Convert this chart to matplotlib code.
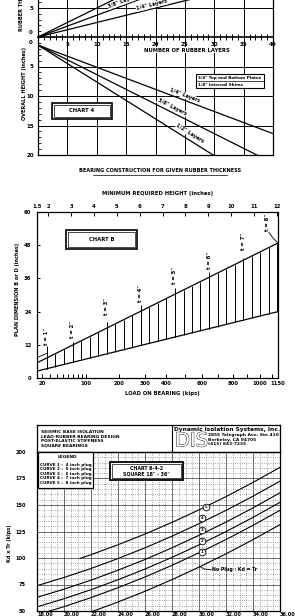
import numpy as np
import matplotlib
matplotlib.use('Agg')
import matplotlib.pyplot as plt
from matplotlib.patches import Rectangle
from matplotlib.lines import Line2D
from matplotlib.ticker import NullLocator
import matplotlib.patheffects as pe

plt.rcParams['font.family'] = 'DejaVu Sans'
plt.rcParams['font.weight'] = 'bold'

W, H = 295, 616

# ---- chart 4: rubber thickness / overall height vs layers ----
layers_span = [0, 40]
thick_quarter = [0, 10]
thick_three_eighths = [0, 15]
thick_half = [0, 20]
height_quarter = [1.375, 16.375]
height_three_eighths = [1.375, 21.375]
height_half = [1.375, 26.375]

# ---- chart B: plan dimension vs load ----
load_span = [15, 1150]
plan_upper = [5.5, 48.8]
plan_lower = [2.5, 24.0]
hatch_loads = [26, 38, 53, 69, 88, 109, 132, 158, 186, 216, 248, 283, 320, 359,
               400, 444, 490, 538, 588, 641, 696, 753, 812, 874, 938, 1004, 1073, 1143]
t_loads = [26, 69, 158, 283, 444, 641, 874]
t_tops = [11.6, 13.0, 20.2, 26.4, 32.5, 38.3, 43.4]
t_label_y = [15.2, 17.7, 25.7, 30.7, 37.2, 42.6, 49.5]
t_labels = ['t = 1"', 't = 2"', 't = 3"', 't = 4"', 't = 5"', 't = 6"', 't = 7"']
t_last_label = 't = 8"'
height_ticks = [1.5, 2, 3, 4, 5, 6, 7, 8, 9, 10, 11, 12]
height_labels = ['1.5', '2', '3', '4', '5', '6', '7', '8', '9', '10', '11', '12']
load_ticks = [20, 30, 40, 50, 60, 70, 80, 90, 100, 200, 300, 400, 500, 600, 700,
              800, 900, 1000, 1100, 1150]
load_labels = ['20', '', '', '', '', '', '', '', '100', '200', '300', '400', '',
               '600', '', '800', '', '1000', '', '1150']
plan_ticks = [0, 12, 24, 36, 48, 60]

# ---- chart 8-4-2: post-elastic stiffness ----
bearing_size = [18, 20, 22, 24, 26, 28, 30, 32, 34, 36]
curve_1 = [46.4, 54.1, 62.6, 72.0, 82.1, 93.1, 104.9, 117.4, 130.8, 145.0]
curve_2 = [53.9, 61.6, 70.1, 79.5, 89.6, 100.6, 112.4, 124.9, 138.3, 152.5]
curve_3 = [62.9, 70.6, 79.1, 88.5, 98.6, 109.6, 121.4, 133.9, 147.3, 161.5]
curve_4 = [73.9, 81.6, 90.1, 99.5, 109.6, 120.6, 132.4, 144.9, 158.3, 172.5]
size_5 = [21.2, 22, 24, 26, 28, 30, 32, 34, 36]
curve_5 = [99.6, 103.1, 112.5, 122.6, 133.6, 145.4, 157.9, 171.3, 185.5]
size_np = [22, 24, 26, 28, 30, 32, 34, 36]
no_plug = [49.1, 58.5, 68.6, 79.6, 91.4, 103.9, 117.3, 131.5]
circle_x = [30.2, 30.2, 30.2, 30.2, 30.5]
circle_y = [106, 116, 126.5, 137.5, 148.5]
legend_rows = ['CURVE 1 :  4 inch plug', 'CURVE 2 :  5 inch plug', 'CURVE 3 :  6 inch plug',
               'CURVE 4 :  7 inch plug', 'CURVE 5 :  8 inch plug']

fig = plt.figure(figsize=(W / 100, H / 100), dpi=100, facecolor='white')


def px_axes(x0, y0, x1, y1):
    ax = fig.add_axes([x0 / W, 1 - y1 / H, (x1 - x0) / W, (y1 - y0) / H])
    ax.patch.set_visible(False)
    return ax


def ft(x, y, s, size=4, **kw):
    kw.setdefault('ha', 'center')
    kw.setdefault('va', 'center')
    return fig.text(x / W, 1 - y / H, s, fontsize=size, fontweight='bold', zorder=6, **kw)


def frect(x0, y0, x1, y1, lw=0.8):
    fig.add_artist(Rectangle((x0 / W, 1 - y1 / H), (x1 - x0) / W, (y1 - y0) / H,
                             transform=fig.transFigure, fc='white', ec='black', lw=lw, zorder=5))


def fline(xs, ys, lw=0.8):
    fig.add_artist(Line2D([x / W for x in xs], [1 - y / H for y in ys],
                          transform=fig.transFigure, color='black', lw=lw, zorder=5))


# ================= chart 4 (overall height, lower part) =================
ax4 = px_axes(38, 37, 273, 155)
ax4.set_xlim(0, 40)
ax4.set_ylim(20, 0)
for h in (height_quarter, height_three_eighths, height_half):
    ax4.plot(layers_span, h, color='black', lw=0.9)
ax4.set_xticks(range(0, 41, 5))
ax4.tick_params(axis='x', length=0, labelbottom=False)
ax4.set_yticks([5, 10, 15, 20])
ax4.set_yticks(range(0, 21), minor=True)
ax4.tick_params(axis='y', which='both', direction='in', length=2.5, width=0.6,
                labelsize=4, pad=3)
ax4.grid(which='major', color='black', lw=0.7)
ax4.spines['top'].set_visible(False)
for s in ('left', 'right', 'bottom'):
    ax4.spines[s].set_linewidth(0.9)
lbl = dict(fontsize=3.6, fontweight='bold', ha='center', va='center',
           bbox=dict(fc='white', ec='none', pad=0.4))
ax4.text(25, 9.9, '1/4" Layers', rotation=-21, **lbl)
ax4.text(22.8, 11.9, '3/8" Layers', rotation=-27, **lbl)
ax4.text(25.9, 16.4, '1/2" Layers', rotation=-32, **lbl)

# ================= chart A (rubber thickness, top) =================
axA = px_axes(38, 0, 273, 37)
axA.set_xlim(0, 40)
axA.set_ylim(0, 37 / 5.8)
for t in (thick_quarter, thick_three_eighths, thick_half):
    axA.plot(layers_span, t, color='black', lw=0.9)
axA.set_xticks(range(0, 41, 5))
axA.set_xticklabels([''] + [str(v) for v in range(5, 41, 5)])
axA.set_xticks(range(41), minor=True)
axA.tick_params(axis='x', which='both', direction='inout', length=5, width=0.7,
                labelsize=4, pad=1)
axA.set_yticks([5])
axA.set_yticks(range(7), minor=True)
axA.tick_params(axis='y', which='both', direction='in', length=2.5, width=0.6,
                labelsize=4, pad=3)
axA.grid(which='major', color='black', lw=0.7)
axA.spines['top'].set_visible(False)
for s in ('left', 'right'):
    axA.spines[s].set_linewidth(0.9)
axA.spines['bottom'].set_linewidth(1.2)
axA.text(19.4, 5.5, '1/4" Layers', rotation=14, **lbl)
axA.text(14.5, 6.1, '3/8" Layers', rotation=20, **lbl)

ft(31, 32, '0')
ft(31, 42, '0')
ft(22, 31, 'RUBBER THICKNESS (inches)', size=3.6, rotation=90, va='bottom')
ft(25, 84, 'OVERALL HEIGHT (inches)', size=3.6, rotation=90)
ft(187, 50, 'NUMBER OF RUBBER LAYERS', size=3.8,
   bbox=dict(fc='white', ec='none', pad=0.5))

frect(52, 103, 112, 119, lw=1.2)
frect(54, 105, 110, 117, lw=0.5)
ft(82, 111, 'CHART 4', size=3.8)
frect(196, 74, 264, 88, lw=0.8)
fline([196, 264], [81, 81], lw=0.5)
ft(198, 77.5, '3/4" Top and Bottom Plates', size=3.0, ha='left')
ft(198, 84.5, '1/8" Internal Shims', size=3.0, ha='left')

ft(160, 171, 'BEARING CONSTRUCTION FOR GIVEN RUBBER THICKNESS', size=3.6)
fline([93, 227], [174.5, 174.5], lw=0.5)
ft(158, 193, 'MINIMUM REQUIRED HEIGHT (inches)', size=3.8)

# ================= chart B =================
axB = px_axes(37, 212, 278, 378)
axB.set_xscale('function', functions=(lambda v: np.sqrt(np.maximum(v, 0)), np.square))
axB.set_xlim(load_span)
axB.set_ylim(0, 60)
axB.plot(load_span, plan_upper, color='black', lw=0.9)
axB.plot(load_span, plan_lower, color='black', lw=0.9)
sq = np.sqrt(load_span)
lo = np.interp(np.sqrt(hatch_loads), sq, plan_lower)
hi = np.interp(np.sqrt(hatch_loads), sq, plan_upper)
axB.vlines(hatch_loads, lo, hi, color='black', lw=0.7)
lo_t = np.interp(np.sqrt(t_loads), sq, plan_lower)
axB.vlines(t_loads, lo_t, t_tops, color='black', lw=0.7)
for x, y, s in zip(t_loads, t_label_y, t_labels):
    axB.text(x, y, s, rotation=90, fontsize=3.8, fontweight='bold', ha='center', va='center')
axB.text(1065, 56.4, t_last_label, rotation=90, fontsize=3.8, fontweight='bold',
         ha='center', va='center')
axB.plot([1150, 1110, 1075], [48.8, 50.5, 52.6], color='black', lw=0.6, clip_on=False)
axB.plot([15, 26], [7.4, 8.9], color='black', lw=0.6)
axB.set_xticks(load_ticks)
axB.set_xticklabels(load_labels)
axB.xaxis.set_minor_locator(NullLocator())
axB.tick_params(axis='x', direction='in', length=3, width=0.7, labelsize=3.8, pad=2.5)
axB.set_yticks(plan_ticks)
axB.tick_params(axis='y', direction='in', length=2.5, width=0.7, labelsize=3.8, pad=4)
for s in axB.spines.values():
    s.set_linewidth(0.9)
axT = axB.twiny()
axT.patch.set_visible(False)
axT.set_xlim(1.5, 12.05)
axT.set_xticks(height_ticks)
axT.set_xticklabels(height_labels)
axT.tick_params(axis='x', direction='in', length=3, width=0.7, labelsize=3.8, pad=2)
for s in axT.spines.values():
    s.set_visible(False)

ft(18, 289, 'PLAN DIMENSION B or D (inches)', size=3.6, rotation=90)
ft(162, 394, 'LOAD ON BEARING (kips)', size=3.8)
frect(66, 230, 137, 249, lw=1.2)
frect(68, 232, 135, 247, lw=0.5)
ft(101.5, 239.5, 'CHART B', size=3.8)

# ================= chart 8-4-2 =================
axH = px_axes(37, 425, 280, 452)
axH.set_xticks([])
axH.set_yticks([])
for s in axH.spines.values():
    s.set_linewidth(0.9)
axH.axvline(0.556, color='black', lw=0.8)
for i, s in enumerate(['SEISMIC BASE ISOLATION', 'LEAD-RUBBER BEARING DESIGN',
                       'POST-ELASTIC STIFFNESS', 'SQUARE BEARINGS']):
    ft(41, 432 + 4.5 * i, s, size=3.2, ha='left')
ft(174, 429, 'Dynamic Isolation Systems, Inc.', size=4.2, ha='left')
dis = ft(175, 441, 'DIS', size=14, ha='left', color='white')
dis.set_fontweight('normal')
dis.set_path_effects([pe.withStroke(linewidth=0.6, foreground='black')])
for i, s in enumerate(['2855 Telegraph Ave. Ste 410', 'Berkeley, CA 94705', '(415) 843-7233']):
    ft(208, 435 + 4.5 * i, s, size=3.2, ha='left')

axC = px_axes(37, 452, 280, 611)
axC.set_xlim(18, 36)
axC.set_ylim(50, 200)
for xs, ys in ((bearing_size, curve_1), (bearing_size, curve_2), (bearing_size, curve_3),
               (bearing_size, curve_4), (size_5, curve_5), (size_np, no_plug)):
    axC.plot(xs, ys, color='black', lw=0.8, zorder=3)
axC.set_xticks(bearing_size)
axC.set_xticklabels([f'{v:.2f}' for v in bearing_size], ha='left')
axC.set_xticks(np.arange(18, 36.01, 0.5), minor=True)
axC.set_yticks([50, 75, 100, 125, 150, 175, 200])
axC.set_yticks(range(50, 201, 5), minor=True)
axC.tick_params(which='both', length=0)
axC.tick_params(axis='x', labelsize=3.6, pad=1)
axC.tick_params(axis='y', labelsize=3.6, pad=8)
axC.grid(which='minor', color='#555555', lw=0.5, ls=(0, (1, 2.2)))
axC.grid(which='major', color='#333333', lw=0.5)
for s in axC.spines.values():
    s.set_linewidth(0.9)
for x, y, n in zip(circle_x, circle_y, range(1, 6)):
    axC.plot(x, y, 'o', ms=4.8, mfc='white', mec='black', mew=0.6, zorder=4)
    axC.text(x, y, str(n), fontsize=2.8, ha='center', va='center', zorder=5)
axC.plot([30.05, 30.4, 30.9], [92, 89.6, 88.9], color='black', lw=0.6, zorder=4)
axC.text(31.0, 88.8, 'No Plug : Kd = Tr', fontsize=3.4, fontweight='bold',
         ha='left', va='center', zorder=5)

frect(38, 452, 93, 488, lw=0.9)
ft(67, 457, 'LEGEND', size=3.2)
for i, s in enumerate(legend_rows):
    ft(40, 465 + 4.4 * i, s, size=3.0, ha='left')
frect(110, 462, 183, 480, lw=1.3)
frect(112, 464, 181, 478, lw=0.5)
ft(146.5, 468.5, 'CHART 8-4-2', size=3.4)
ft(146.5, 473.5, 'SQUARE 18" - 36"', size=3.4)
ft(10, 543, 'Kd x Tr (kips)', size=3.6, rotation=90)

fig.savefig('out.png', dpi=100, facecolor='white')
